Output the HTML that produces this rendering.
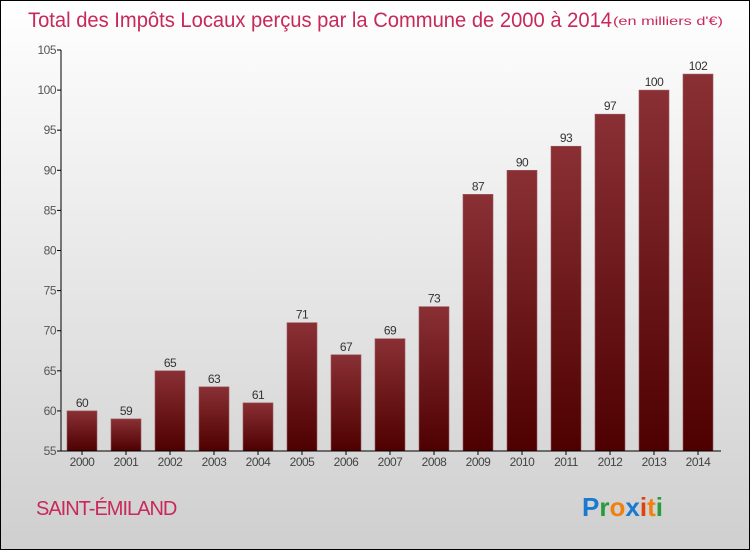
<!DOCTYPE html>
<html><head><meta charset="utf-8"><style>
body{margin:0}
svg{display:block;font-family:"Liberation Sans",sans-serif}
</style></head><body>
<svg id="c" width="750" height="550" xmlns="http://www.w3.org/2000/svg">
<defs>
<linearGradient id="bg" x1="0" y1="0" x2="0" y2="1"><stop offset="0" stop-color="#ffffff"/><stop offset="1" stop-color="#cfcfcf"/></linearGradient>
<linearGradient id="bar" x1="0" y1="0" x2="0" y2="1"><stop offset="0" stop-color="#8a3035"/><stop offset="1" stop-color="#4e0000"/></linearGradient>
</defs>
<rect x="0.5" y="0.5" width="749" height="549" fill="url(#bg)" stroke="#000"/>
<text x="28" y="27" font-size="21" fill="#c8285a" textLength="584" lengthAdjust="spacingAndGlyphs">Total des Impôts Locaux perçus par la Commune de 2000 à 2014</text>
<text x="613" y="25" font-size="12" fill="#c8285a" textLength="110" lengthAdjust="spacingAndGlyphs">(en milliers d'€)</text>
<g id="plot"></g>
<text x="36" y="515" font-size="20" fill="#c8285a" letter-spacing="-1">SAINT-ÉMILAND</text>
<text x="582" y="516" font-size="26" font-weight="bold"><tspan fill="#1a7ad0">P</tspan><tspan fill="#2a9a3a">r</tspan><tspan fill="#f08010">o</tspan><tspan fill="#1a7ad0">x</tspan><tspan fill="#e04010">i</tspan><tspan fill="#f08010">t</tspan><tspan fill="#2a9a3a">i</tspan></text>
</svg>
<script>
const years=["2000","2001","2002","2003","2004","2005","2006","2007","2008","2009","2010","2011","2012","2013","2014"];
const values=[60,59,65,63,61,71,67,69,73,87,90,93,97,100,102];
const ticks=[55,60,65,70,75,80,85,90,95,100,105];
const NS="http://www.w3.org/2000/svg";
const g=document.getElementById('plot');
const y=v=>451-(v-55)*8.02;
const x=i=>82+i*44;
function el(t,a){const e=document.createElementNS(NS,t);for(const k in a)e.setAttribute(k,a[k]);g.appendChild(e);return e;}
ticks.forEach(t=>{
 const l=el('line',{x1:57,x2:61,y1:y(t),y2:y(t),stroke:'#000'});
 
 
 const tx=el('text',{x:56,y:y(t)+4,'font-size':12,fill:'#555','text-anchor':'end','letter-spacing':'-0.5'});
 tx.textContent=t;
 
 
});
values.forEach((v,i)=>{
 const r=el('rect',{x:x(i)-15,y:y(v),width:30,height:451-y(v),fill:'url(#bar)',stroke:'#9a5a5e','stroke-width':0.6});
 
 
 const vt=el('text',{x:x(i),y:y(v)-4,'font-size':12,fill:'#333','text-anchor':'middle','letter-spacing':'-0.5'});
 vt.textContent=v;
 
 
 const tk=el('line',{x1:x(i),x2:x(i),y1:451,y2:455,stroke:'#000'});
 
 
 const xt=el('text',{x:x(i),y:466,'font-size':12,fill:'#444','text-anchor':'middle','letter-spacing':'-0.5'});
 xt.textContent=years[i];
 
 
});
const ya=el('line',{x1:61,x2:61,y1:y(105),y2:451,stroke:'#000'});


const xa=el('line',{x1:61,x2:721,y1:451,y2:451,stroke:'#000'});


</script>
</body></html>
